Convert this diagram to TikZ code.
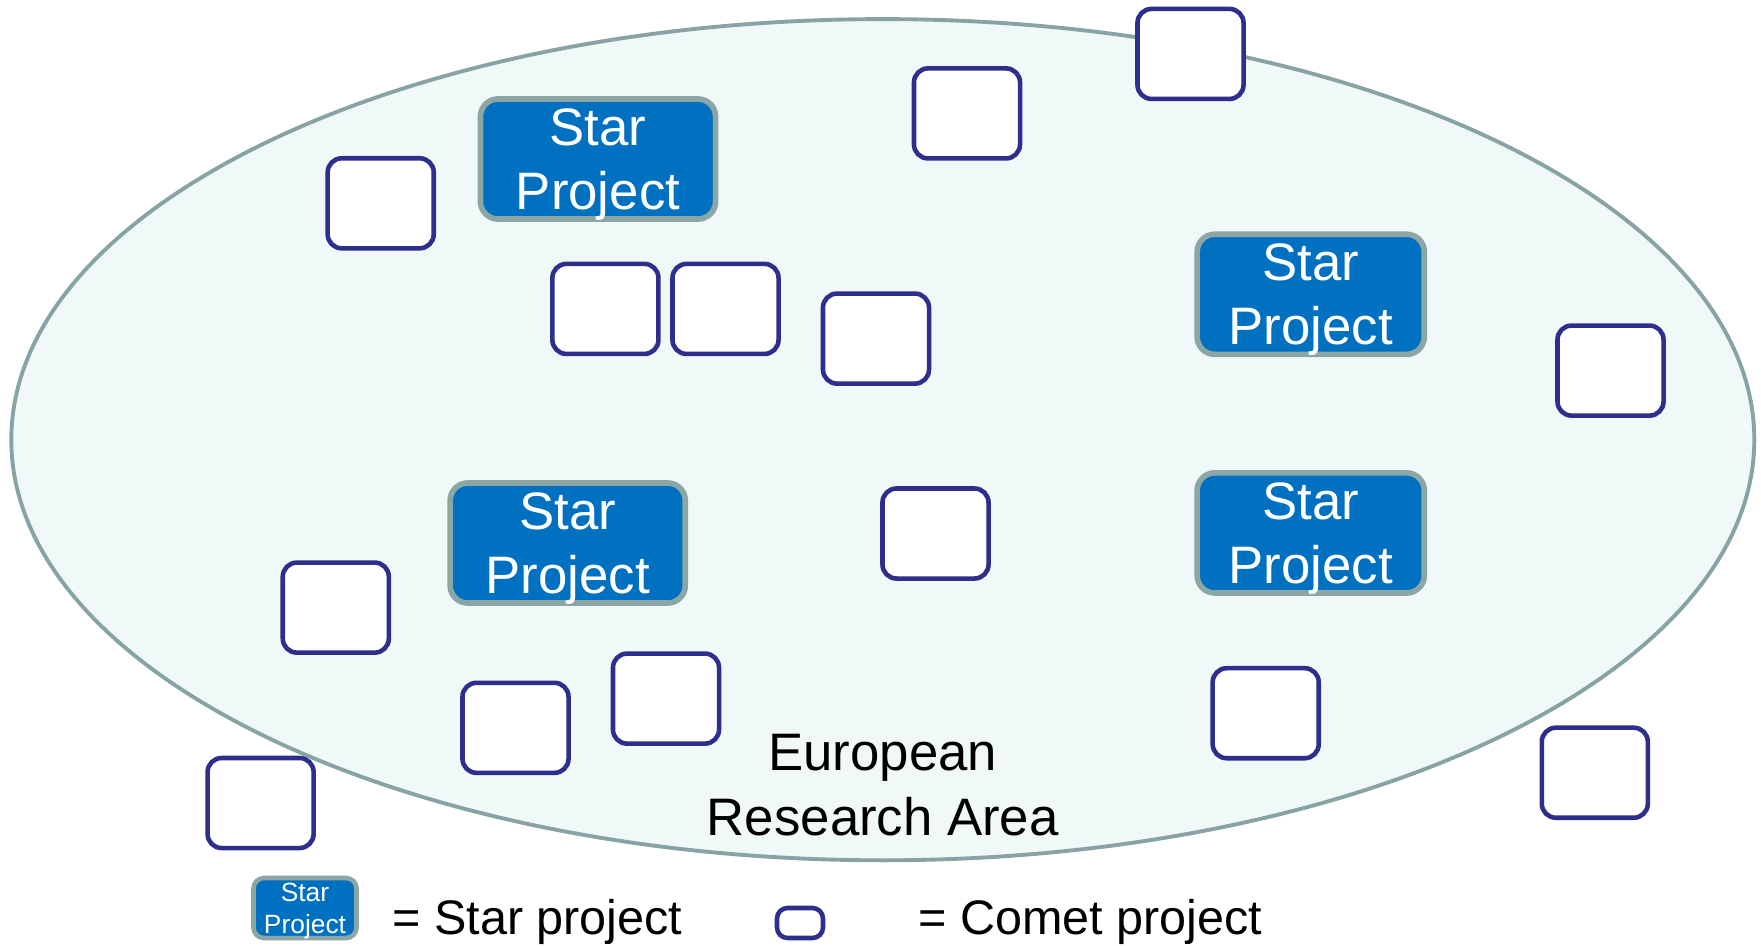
\documentclass[tikz,border=0pt]{standalone}
\usepackage{fontspec}
\setmainfont{Liberation Sans}
\definecolor{starblue}{RGB}{0,112,192}
\definecolor{stargray}{RGB}{140,165,165}
\definecolor{eraline}{RGB}{135,163,163}
\definecolor{erafill}{RGB}{240,248,248}
\definecolor{cometblue}{RGB}{46,46,140}
\tikzset{
  star/.style={draw=stargray, line width=1.6pt, fill=starblue, text=white,
    rounded corners=5pt, minimum width=2.35cm, minimum height=1.2cm,
    inner sep=0pt, align=center, text depth=0pt, font=\fontsize{15}{18.3}\selectfont},
  comet/.style={draw=cometblue, line width=1.3pt, fill=white,
    rounded corners=4pt, minimum width=1.06cm, minimum height=0.9cm, inner sep=0pt},
  legendtext/.style={anchor=west, font=\fontsize{13.8}{16}\selectfont}
}
\begin{document}
\begin{tikzpicture}[x=0.01cm,y=-0.01cm]
\useasboundingbox (0,0) rectangle (1761,945);
\draw[eraline, fill=erafill, line width=1.1pt] (882.8,439.7) ellipse [x radius=871.5, y radius=420.6];
\node[font=\fontsize{15}{18.3}\selectfont, align=center] (era) at (882.8,785) {European\\Research Area};
\node[star] (sa) at (598,159) {Star\\Project};
\node[star, minimum width=2.27cm] (sb) at (1310.7,294.3) {Star\\Project};
\node[star] (sc) at (567.7,543) {Star\\Project};
\node[star, minimum width=2.27cm] (sd) at (1310.7,532.9) {Star\\Project};
\foreach \n/\x/\y in {1/380.7/203.3, 2/967/113.4, 3/1190.5/53.9, 4/605.4/308.9,
  5/725.5/308.9, 6/876/338.6, 7/1610.5/370.6, 8/935.5/533.5, 9/335.8/607.6,
  10/515.5/727.8, 11/666/698.6, 12/1265.7/713.2, 13/260.6/803, 14/1594.8/772.7}
  \node[comet] (c\n) at (\x,\y) {};
% legend
\node[star, minimum width=1.03cm, minimum height=0.6cm, line width=1.3pt,
  rounded corners=3pt, font=\fontsize{7.5}{9}\selectfont] (ls) at (305,908) {Star\\Project};
\node[legendtext] (lst) at (380,922) {= Star project};
\node[comet, minimum width=0.46cm, minimum height=0.3cm, rounded corners=3pt] (lc) at (800,923) {};
\node[legendtext] (lct) at (906,922) {= Comet project};
\end{tikzpicture}
\end{document}
